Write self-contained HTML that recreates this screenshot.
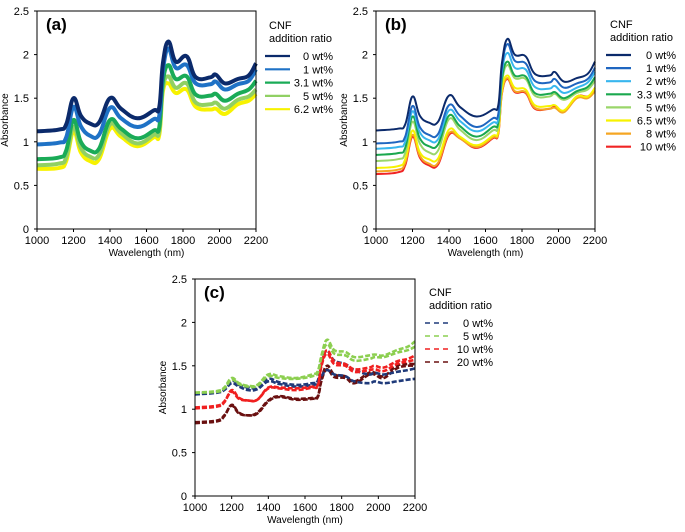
<!DOCTYPE html>
<html><head><meta charset="utf-8"><style>
body{margin:0;background:#fff;}
svg{display:block;font-family:"Liberation Sans",Arial,sans-serif;}
</style></head><body>
<svg id="fig" width="685" height="532" viewBox="0 0 685 532"></svg>
<script>
const wl=[1000,1120,1160,1200,1240,1290,1340,1400,1460,1550,1640,1670,1690,1720,1760,1820,1870,1950,1980,2030,2100,2160,2200];
const xTicks=[1000,1200,1400,1600,1800,2000,2200];
const yTicks=[0,0.5,1,1.5,2,2.5];
const yTickLabels=["0","0.5","1","1.5","2","2.5"];
const aLabels=["0 wt%","1 wt%","3.1 wt%","5 wt%","6.2 wt%"];
const aColors=["#0b2a6b","#1f72c6","#1aab57","#90d063","#f7f200"];
const a0=[1.12,1.14,1.2,1.5,1.3,1.21,1.22,1.5,1.38,1.27,1.36,1.4,1.9,2.15,1.92,1.98,1.74,1.74,1.77,1.67,1.72,1.76,1.9];
const a1=[0.97,0.99,1.05,1.4,1.18,1.07,1.08,1.39,1.27,1.17,1.26,1.3,1.82,2.07,1.85,1.88,1.67,1.66,1.69,1.6,1.66,1.7,1.83];
const a2=[0.8,0.82,0.9,1.25,1.0,0.9,0.92,1.25,1.15,1.04,1.13,1.17,1.7,1.88,1.72,1.75,1.54,1.53,1.55,1.47,1.55,1.6,1.7];
const a3=[0.73,0.75,0.82,1.17,0.93,0.83,0.85,1.2,1.1,0.98,1.08,1.12,1.62,1.75,1.62,1.67,1.45,1.43,1.45,1.38,1.48,1.52,1.6];
const a4=[0.69,0.7,0.78,1.12,0.88,0.78,0.8,1.15,1.06,0.95,1.05,1.08,1.58,1.67,1.56,1.6,1.4,1.37,1.38,1.32,1.43,1.47,1.55];
const bLabels=["0 wt%","1 wt%","2 wt%","3.3 wt%","5 wt%","6.5 wt%","8 wt%","10 wt%"];
const bColors=["#0b2a6b","#1f66c0","#38b6ee","#1aa84e","#9ad66a","#f7f200","#f5a623","#f02424"];
const b0=[1.13,1.15,1.2,1.52,1.3,1.22,1.23,1.53,1.4,1.29,1.37,1.42,1.9,2.18,2.0,1.98,1.78,1.76,1.8,1.69,1.73,1.78,1.92];
const b1=[0.98,1.0,1.06,1.41,1.17,1.08,1.09,1.42,1.3,1.17,1.27,1.32,1.85,2.12,1.93,1.9,1.7,1.68,1.72,1.62,1.67,1.72,1.85];
const b2=[0.92,0.94,1.0,1.35,1.11,1.02,1.03,1.36,1.24,1.12,1.22,1.27,1.8,2.02,1.85,1.83,1.63,1.61,1.64,1.56,1.62,1.68,1.8];
const b3=[0.85,0.87,0.93,1.29,1.04,0.95,0.97,1.3,1.18,1.06,1.17,1.22,1.72,1.92,1.76,1.75,1.56,1.55,1.57,1.5,1.58,1.63,1.74];
const b4=[0.78,0.8,0.87,1.23,0.98,0.88,0.9,1.26,1.14,1.02,1.13,1.18,1.68,1.88,1.73,1.72,1.53,1.52,1.55,1.48,1.56,1.6,1.7];
const b5=[0.7,0.72,0.8,1.13,0.88,0.8,0.81,1.14,1.06,0.96,1.07,1.12,1.6,1.76,1.62,1.6,1.42,1.41,1.42,1.36,1.52,1.52,1.62];
const b6=[0.66,0.68,0.76,1.08,0.84,0.75,0.76,1.1,1.04,0.94,1.05,1.1,1.56,1.73,1.58,1.57,1.39,1.38,1.39,1.34,1.5,1.5,1.58];
const b7=[0.63,0.65,0.73,1.06,0.82,0.73,0.74,1.08,1.04,0.93,1.04,1.09,1.55,1.72,1.57,1.56,1.38,1.38,1.4,1.35,1.52,1.52,1.58];
const cLabels=["0 wt%","5 wt%","10 wt%","20 wt%"];
const cColors=["#1f3a7a","#8ccf50","#f02020","#6a1010"];
const c0a=[1.17,1.19,1.22,1.3,1.26,1.22,1.23,1.32,1.29,1.26,1.28,1.3,1.38,1.45,1.4,1.38,1.32,1.3,1.32,1.3,1.32,1.34,1.35];
const c0b=[1.18,1.2,1.24,1.33,1.28,1.25,1.25,1.35,1.31,1.28,1.3,1.33,1.55,1.67,1.56,1.52,1.45,1.4,1.42,1.4,1.43,1.45,1.47];
const c1a=[1.19,1.21,1.25,1.36,1.3,1.27,1.28,1.4,1.38,1.36,1.4,1.44,1.62,1.8,1.68,1.66,1.6,1.62,1.63,1.62,1.68,1.72,1.78];
const c1b=[1.19,1.2,1.24,1.34,1.29,1.26,1.27,1.38,1.36,1.35,1.38,1.42,1.6,1.75,1.64,1.62,1.56,1.58,1.6,1.6,1.65,1.68,1.72];
const c2a=[1.01,1.03,1.08,1.22,1.13,1.1,1.11,1.25,1.25,1.24,1.26,1.28,1.52,1.68,1.55,1.52,1.46,1.48,1.5,1.48,1.55,1.58,1.62];
const c2b=[1.02,1.04,1.09,1.2,1.12,1.1,1.11,1.24,1.24,1.22,1.25,1.27,1.5,1.64,1.52,1.5,1.43,1.45,1.46,1.44,1.52,1.55,1.57];
const c3a=[0.84,0.86,0.92,1.05,0.96,0.93,0.96,1.1,1.15,1.12,1.13,1.15,1.35,1.5,1.4,1.38,1.32,1.42,1.42,1.38,1.5,1.52,1.52];
const c3b=[0.85,0.87,0.93,1.04,0.95,0.93,0.95,1.09,1.14,1.11,1.12,1.14,1.33,1.46,1.37,1.36,1.3,1.4,1.4,1.36,1.47,1.5,1.5];

const NS="http://www.w3.org/2000/svg";
const svg=document.getElementById('fig');
function mk(tag,attrs,parent,text){const e=document.createElementNS(NS,tag);for(const k in attrs)e.setAttribute(k,attrs[k]);if(text!==undefined)e.textContent=text;(parent||svg).appendChild(e);return e;}
function smooth(pts){
  let d='M'+pts[0][0].toFixed(1)+','+pts[0][1].toFixed(1);
  for(let i=0;i<pts.length-1;i++){
    const p0=pts[Math.max(0,i-1)],p1=pts[i],p2=pts[i+1],p3=pts[Math.min(pts.length-1,i+2)];
    const t=0.4;
    const c1=[p1[0]+(p2[0]-p0[0])*t/2,p1[1]+(p2[1]-p0[1])*t/2];
    const c2=[p2[0]-(p3[0]-p1[0])*t/2,p2[1]-(p3[1]-p1[1])*t/2];
    d+='C'+c1[0].toFixed(1)+','+c1[1].toFixed(1)+' '+c2[0].toFixed(1)+','+c2[1].toFixed(1)+' '+p2[0].toFixed(1)+','+p2[1].toFixed(1);
  }
  return d;
}

function panel(id,L,R,T,B,letter,series,colors,labels,legX,legTextR,legY0,legDy,dashed,width){
  const g=mk('g',{});
  
  
  const xs=v=>L+(v-1000)/1200*(R-L);
  const ys=v=>B-v/2.5*(B-T);
  series.forEach((s,i)=>{
    const d=smooth(s.data.map((v,j)=>[xs(wl[j]),ys(v)]));
    const p=mk('path',{d:d,fill:'none',stroke:colors[s.c],'stroke-width':width,'stroke-linejoin':'round'},g);
    if(dashed)p.setAttribute('stroke-dasharray','5,2');
    
    
  });
  const box=mk('rect',{x:L,y:T,width:R-L,height:B-T,fill:'none',stroke:'#000','stroke-width':1},g);
  
  
  xTicks.forEach(t=>{
    mk('line',{x1:xs(t),x2:xs(t),y1:B,y2:B+3,stroke:'#000'},g);
    const tx=mk('text',{x:xs(t),y:B+15,'font-size':11,'text-anchor':'middle'},g,String(t));
    
    
  });
  yTicks.forEach((t,i)=>{
    mk('line',{x1:L-3,x2:L,y1:ys(t),y2:ys(t),stroke:'#000'},g);
    const tx=mk('text',{x:L-8,y:ys(t)+4,'font-size':11,'text-anchor':'end'},g,yTickLabels[i]);
    
    
  });
  const xt=mk('text',{x:(L+R)/2,y:B+27,'font-size':10,'text-anchor':'middle'},g,'Wavelength (nm)');
  
  
  const yt=mk('text',{x:0,y:0,'font-size':10,'text-anchor':'middle',transform:`translate(${L-29},${(T+B)/2}) rotate(-90)`},g,'Absorbance');
  
  
  const pl=mk('text',{x:L+9,y:T+19,'font-size':17,'font-weight':'bold'},g,letter);
  
  
  const lt1=mk('text',{x:legX+4,y:legY0-27,'font-size':11},g,'CNF');
  
  
  const lt2=mk('text',{x:legX+4,y:legY0-14,'font-size':11},g,'addition ratio');
  
  
  labels.forEach((lab,i)=>{
    const y=legY0+i*legDy;
    const ln=mk('line',{x1:legX,x2:legX+25,y1:y,y2:y,stroke:colors[i],'stroke-width':dashed?1.6:2.2},g);
    if(dashed)ln.setAttribute('stroke-dasharray','5,4');
    
    
    const tx=mk('text',{x:legTextR,y:y+4,'font-size':11,'text-anchor':'end'},g,lab);
    
    
  });
}
panel('a',37,256,11,229,'(a)',
  [{data:a4,c:4},{data:a3,c:3},{data:a2,c:2},{data:a1,c:1},{data:a0,c:0}],
  aColors,aLabels,265,333,56,13.3,false,4);
panel('b',376,595,11,229,'(b)',
  [{data:b7,c:7},{data:b6,c:6},{data:b5,c:5},{data:b4,c:4},{data:b3,c:3},{data:b2,c:2},{data:b1,c:1},{data:b0,c:0}],
  bColors,bLabels,606,676,55,13.1,false,2);
panel('c',195,415,279,496,'(c)',
  [{data:c3b,c:3},{data:c3a,c:3},{data:c0a,c:0},{data:c0b,c:0},{data:c2b,c:2},{data:c2a,c:2},{data:c1b,c:1},{data:c1a,c:1}],
  cColors,cLabels,425,493,323,13,true,2.6);
</script>
</body></html>
